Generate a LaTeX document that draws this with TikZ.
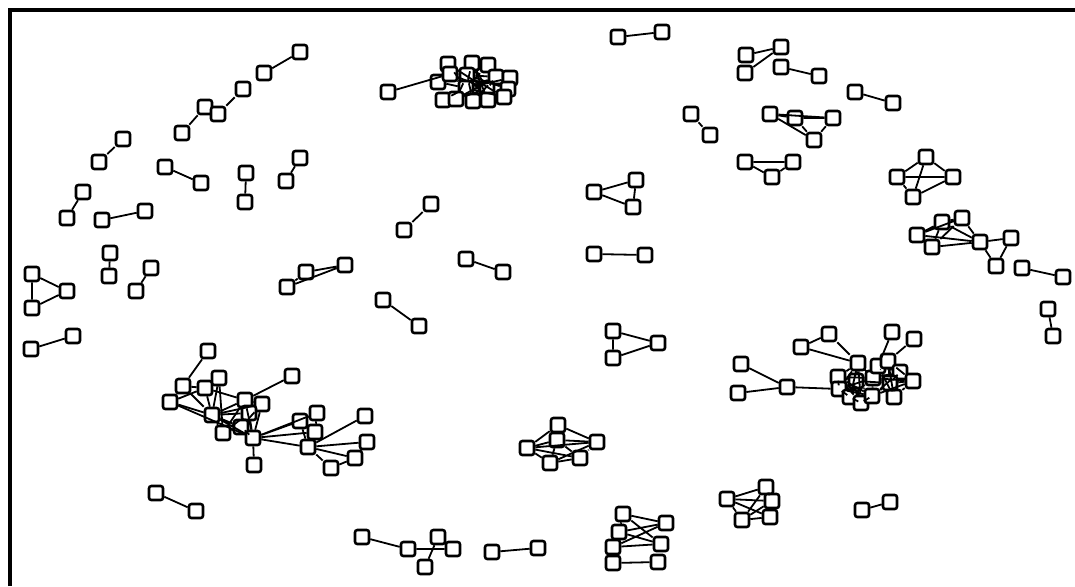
\documentclass[tikz,border=0pt]{standalone}
\usepackage{tikz}
\tikzset{
  vertex/.style={
    rectangle,
    rounded corners=1.2pt,
    draw=black,
    fill=white,
    line width=1.3pt,
    minimum size=7pt,
    inner sep=0pt
  },
  link/.style={
    line width=0.9pt,
    draw=black
  },
  frame/.style={
    line width=1.7pt,
    draw=black
  }
}
\begin{document}
\begin{tikzpicture}[x=0.5pt,y=-0.5pt]
  \useasboundingbox (0,0) rectangle (1075,586);
  \draw[frame] (10,586) -- (10,10) -- (1075,10);
  % small pairs, upper left
  \node[vertex] (ta1) at (264,73) {};
  \node[vertex] (ta2) at (300,52) {};
  \node[vertex] (tb1) at (182,133) {};
  \node[vertex] (tb2) at (205,107) {};
  \node[vertex] (tc1) at (218,114) {};
  \node[vertex] (tc2) at (243,89) {};
  \node[vertex] (td1) at (99,162) {};
  \node[vertex] (td2) at (123,139) {};
  \node[vertex] (te1) at (165,167) {};
  \node[vertex] (te2) at (201,183) {};
  \node[vertex] (tf1) at (246,173) {};
  \node[vertex] (tf2) at (245,202) {};
  \node[vertex] (tg1) at (286,181) {};
  \node[vertex] (tg2) at (300,158) {};
  \node[vertex] (th1) at (67,218) {};
  \node[vertex] (th2) at (83,192) {};
  \node[vertex] (ti1) at (102,220) {};
  \node[vertex] (ti2) at (145,211) {};
  \node[vertex] (tj1) at (110,253) {};
  \node[vertex] (tj2) at (109,276) {};
  \node[vertex] (tk1) at (136,291) {};
  \node[vertex] (tk2) at (151,268) {};
  \node[vertex] (ua) at (32,274) {};
  \node[vertex] (ub) at (67,291) {};
  \node[vertex] (uc) at (32,308) {};
  \node[vertex] (va1) at (31,349) {};
  \node[vertex] (va2) at (73,336) {};
  \node[vertex] (wa) at (287,287) {};
  \node[vertex] (wb) at (306,272) {};
  \node[vertex] (wc) at (345,265) {};
  \node[vertex] (xa1) at (383,300) {};
  \node[vertex] (xa2) at (419,326) {};
  \node[vertex] (xb1) at (404,230) {};
  \node[vertex] (xb2) at (431,204) {};
  \node[vertex] (xc1) at (466,259) {};
  \node[vertex] (xc2) at (503,272) {};
  \node[vertex] (ya1) at (156,493) {};
  \node[vertex] (ya2) at (196,511) {};
  % north cluster
  \node[vertex] (n0) at (388,92) {};
  \node[vertex] (n1) at (448,64) {};
  \node[vertex] (n2) at (472,63) {};
  \node[vertex] (n3) at (488,65) {};
  \node[vertex] (n4) at (438,82) {};
  \node[vertex] (n5) at (450,74) {};
  \node[vertex] (n6) at (467,75) {};
  \node[vertex] (n7) at (496,77) {};
  \node[vertex] (n8) at (510,78) {};
  \node[vertex] (n9) at (466,88) {};
  \node[vertex] (n10) at (487,89) {};
  \node[vertex] (n11) at (508,89) {};
  \node[vertex] (n12) at (443,100) {};
  \node[vertex] (n13) at (456,99) {};
  \node[vertex] (n14) at (473,101) {};
  \node[vertex] (n15) at (488,100) {};
  \node[vertex] (n16) at (504,97) {};
  % west cluster
  \node[vertex] (w1) at (208,351) {};
  \node[vertex] (w2) at (183,386) {};
  \node[vertex] (w3) at (205,388) {};
  \node[vertex] (w4) at (219,378) {};
  \node[vertex] (w5) at (170,402) {};
  \node[vertex] (w6) at (212,415) {};
  \node[vertex] (w7) at (223,433) {};
  \node[vertex] (w8) at (245,400) {};
  \node[vertex] (w9) at (262,404) {};
  \node[vertex] (w10) at (249,413) {};
  \node[vertex] (w11) at (241,427) {};
  \node[vertex] (w12) at (253,438) {};
  \node[vertex] (w13) at (254,465) {};
  \node[vertex] (w14) at (292,376) {};
  \node[vertex] (w15) at (300,421) {};
  \node[vertex] (w16) at (317,413) {};
  \node[vertex] (w17) at (315,432) {};
  \node[vertex] (w18) at (308,447) {};
  \node[vertex] (w19) at (365,416) {};
  \node[vertex] (w20) at (367,442) {};
  \node[vertex] (w21) at (355,458) {};
  \node[vertex] (w22) at (331,468) {};
  % south middle
  \node[vertex] (s1) at (558,425) {};
  \node[vertex] (s2) at (557,440) {};
  \node[vertex] (s3) at (527,448) {};
  \node[vertex] (s4) at (597,442) {};
  \node[vertex] (s5) at (580,458) {};
  \node[vertex] (s6) at (550,463) {};
  \node[vertex] (b1) at (362,537) {};
  \node[vertex] (b2) at (408,549) {};
  \node[vertex] (b3) at (438,537) {};
  \node[vertex] (b4) at (453,549) {};
  \node[vertex] (b5) at (425,567) {};
  \node[vertex] (b6) at (492,552) {};
  \node[vertex] (b7) at (538,548) {};
  \node[vertex] (k1) at (623,514) {};
  \node[vertex] (k2) at (666,523) {};
  \node[vertex] (k3) at (619,532) {};
  \node[vertex] (k4) at (613,547) {};
  \node[vertex] (k5) at (661,544) {};
  \node[vertex] (k6) at (613,563) {};
  \node[vertex] (k7) at (658,562) {};
  % upper right
  \node[vertex] (r1) at (618,37) {};
  \node[vertex] (r2) at (662,32) {};
  \node[vertex] (r3) at (746,55) {};
  \node[vertex] (r4) at (745,73) {};
  \node[vertex] (r5) at (781,47) {};
  \node[vertex] (r6) at (781,67) {};
  \node[vertex] (r7) at (819,76) {};
  \node[vertex] (r8) at (855,92) {};
  \node[vertex] (r9) at (893,103) {};
  \node[vertex] (r10) at (691,114) {};
  \node[vertex] (r11) at (710,135) {};
  \node[vertex] (q1) at (770,114) {};
  \node[vertex] (q2) at (795,118) {};
  \node[vertex] (q3) at (833,118) {};
  \node[vertex] (q4) at (814,140) {};
  \node[vertex] (q5) at (745,162) {};
  \node[vertex] (q6) at (793,162) {};
  \node[vertex] (q7) at (772,177) {};
  \node[vertex] (q8) at (926,157) {};
  \node[vertex] (q9) at (897,177) {};
  \node[vertex] (q10) at (953,177) {};
  \node[vertex] (q11) at (913,197) {};
  \node[vertex] (m1) at (594,192) {};
  \node[vertex] (m2) at (636,180) {};
  \node[vertex] (m3) at (633,207) {};
  \node[vertex] (m4) at (594,254) {};
  \node[vertex] (m5) at (645,255) {};
  \node[vertex] (m6) at (613,331) {};
  \node[vertex] (m7) at (658,343) {};
  \node[vertex] (m8) at (613,358) {};
  \node[vertex] (g1) at (917,235) {};
  \node[vertex] (g2) at (942,222) {};
  \node[vertex] (g3) at (962,218) {};
  \node[vertex] (g4) at (932,247) {};
  \node[vertex] (g5) at (980,242) {};
  \node[vertex] (g6) at (1011,238) {};
  \node[vertex] (g7) at (996,266) {};
  \node[vertex] (g8) at (1022,268) {};
  \node[vertex] (g9) at (1063,277) {};
  \node[vertex] (g10) at (1048,309) {};
  \node[vertex] (g11) at (1053,336) {};
  % east cluster
  \node[vertex] (e1) at (741,364) {};
  \node[vertex] (e2) at (738,393) {};
  \node[vertex] (e3) at (787,387) {};
  \node[vertex] (e4) at (801,347) {};
  \node[vertex] (e5) at (829,334) {};
  \node[vertex] (e6) at (892,332) {};
  \node[vertex] (e7) at (914,339) {};
  \node[vertex] (e8) at (858,363) {};
  \node[vertex] (e9) at (838,377) {};
  \node[vertex] (e10) at (839,389) {};
  \node[vertex] (e11) at (850,397) {};
  \node[vertex] (e12) at (861,403) {};
  \node[vertex] (e13) at (872,396) {};
  \node[vertex] (e14) at (873,378) {};
  \node[vertex] (e15) at (878,366) {};
  \node[vertex] (e16) at (888,361) {};
  \node[vertex] (e17) at (900,372) {};
  \node[vertex] (e18) at (913,381) {};
  \node[vertex] (e19) at (894,397) {};
  \node[vertex] (e20) at (856,381) {};
  \node[vertex] (e21) at (890,383) {};
  \node[vertex] (f1) at (727,499) {};
  \node[vertex] (f2) at (766,487) {};
  \node[vertex] (f3) at (772,501) {};
  \node[vertex] (f4) at (742,520) {};
  \node[vertex] (f5) at (770,517) {};
  \node[vertex] (f6) at (862,510) {};
  \node[vertex] (f7) at (890,502) {};
  % connectors
  \draw[link] (ta1) -- (ta2) (tb1) -- (tb2) (tc1) -- (tc2) (td1) -- (td2);
  \draw[link] (te1) -- (te2) (tf1) -- (tf2) (tg1) -- (tg2) (th1) -- (th2);
  \draw[link] (ti1) -- (ti2) (tj1) -- (tj2) (tk1) -- (tk2) (va1) -- (va2);
  \draw[link] (ua) -- (ub) (ua) -- (uc) (uc) -- (ub);
  \draw[link] (wa) -- (wb) (wa) -- (wc) (wb) -- (wc);
  \draw[link] (xa1) -- (xa2) (xb1) -- (xb2) (xc1) -- (xc2) (ya1) -- (ya2);
  \draw[link] (n0) -- (n5) (n5) -- (n6) (n5) -- (n9) (n5) -- (n10) (n6) -- (n10) (n6) -- (n3);
  \draw[link] (n6) -- (n14) (n1) -- (n9) (n2) -- (n9) (n2) -- (n10) (n3) -- (n9) (n9) -- (n10);
  \draw[link] (n9) -- (n15) (n10) -- (n14) (n10) -- (n7) (n6) -- (n7) (n4) -- (n9) (n12) -- (n9);
  \draw[link] (n13) -- (n10) (n13) -- (n6) (n16) -- (n9) (n11) -- (n6) (n8) -- (n9) (n1) -- (n10);
  \draw[link] (n6) -- (n15) (n9) -- (n7) (n14) -- (n7) (n13) -- (n7) (n6) -- (n16) (n2) -- (n15);
  \draw[link] (w1) -- (w2) (w2) -- (w5) (w2) -- (w3) (w2) -- (w6) (w5) -- (w6) (w5) -- (w3);
  \draw[link] (w3) -- (w6) (w4) -- (w6) (w4) -- (w7) (w5) -- (w12) (w6) -- (w8) (w6) -- (w9);
  \draw[link] (w6) -- (w10) (w6) -- (w11) (w6) -- (w12) (w7) -- (w11) (w7) -- (w10) (w8) -- (w14);
  \draw[link] (w8) -- (w9) (w8) -- (w12) (w9) -- (w12) (w10) -- (w12) (w11) -- (w12) (w12) -- (w13);
  \draw[link] (w12) -- (w15) (w12) -- (w16) (w12) -- (w17) (w12) -- (w18) (w15) -- (w16) (w15) -- (w18);
  \draw[link] (w17) -- (w18) (w16) -- (w17) (w18) -- (w19) (w18) -- (w20) (w18) -- (w21) (w18) -- (w22);
  \draw[link] (w21) -- (w20) (w22) -- (w21) (w6) -- (w7) (w3) -- (w8) (w7) -- (w8) (w11) -- (w9);
  \draw[link] (s1) -- (s3) (s1) -- (s4) (s1) -- (s2) (s2) -- (s3) (s2) -- (s4) (s2) -- (s5);
  \draw[link] (s2) -- (s6) (s3) -- (s4) (s3) -- (s5) (s3) -- (s6) (s6) -- (s5) (s5) -- (s4) (s6) -- (s4);
  \draw[link] (b1) -- (b2) (b2) -- (b4) (b3) -- (b5) (b6) -- (b7);
  \draw[link] (k1) -- (k2) (k1) -- (k5) (k3) -- (k2) (k3) -- (k5) (k4) -- (k2) (k4) -- (k5);
  \draw[link] (k1) -- (k3) (k3) -- (k4) (k6) -- (k7);
  \draw[link] (r1) -- (r2) (r3) -- (r5) (r4) -- (r5) (r6) -- (r7) (r8) -- (r9) (r10) -- (r11);
  \draw[link] (q1) -- (q2) (q1) -- (q3) (q1) -- (q4) (q2) -- (q4) (q2) -- (q3) (q3) -- (q4);
  \draw[link] (q5) -- (q6) (q5) -- (q7) (q7) -- (q6);
  \draw[link] (q8) -- (q9) (q8) -- (q10) (q8) -- (q11) (q9) -- (q10) (q9) -- (q11) (q11) -- (q10);
  \draw[link] (m1) -- (m2) (m1) -- (m3) (m2) -- (m3) (m4) -- (m5);
  \draw[link] (m6) -- (m7) (m6) -- (m8) (m8) -- (m7);
  \draw[link] (g1) -- (g2) (g1) -- (g3) (g1) -- (g4) (g1) -- (g5) (g2) -- (g3) (g2) -- (g4);
  \draw[link] (g2) -- (g5) (g3) -- (g5) (g4) -- (g5) (g4) -- (g3) (g5) -- (g6) (g5) -- (g7) (g6) -- (g7);
  \draw[link] (g8) -- (g9) (g10) -- (g11);
  \draw[link] (e1) -- (e3) (e2) -- (e3) (e3) -- (e10) (e4) -- (e5) (e4) -- (e8) (e5) -- (e8);
  \draw[link] (e6) -- (e15) (e7) -- (e16);
  \draw[link] (e20) -- (e8) (e20) -- (e9) (e20) -- (e10) (e20) -- (e11) (e20) -- (e12) (e20) -- (e13);
  \draw[link] (e20) -- (e14) (e8) -- (e9) (e9) -- (e10) (e10) -- (e11) (e11) -- (e12) (e12) -- (e13);
  \draw[link] (e8) -- (e14) (e9) -- (e13) (e10) -- (e14) (e8) -- (e11) (e14) -- (e13) (e20) -- (e21);
  \draw[link] (e8) -- (e12) (e9) -- (e14) (e10) -- (e13) (e11) -- (e14) (e9) -- (e12) (e8) -- (e10);
  \draw[link] (e21) -- (e14) (e21) -- (e15) (e21) -- (e16) (e21) -- (e17) (e21) -- (e18) (e21) -- (e19);
  \draw[link] (e21) -- (e13) (e15) -- (e17) (e16) -- (e19) (e14) -- (e18) (e13) -- (e17) (e19) -- (e18);
  \draw[link] (e15) -- (e19) (e16) -- (e18) (e14) -- (e17) (e13) -- (e18) (e16) -- (e14) (e17) -- (e19);
  \draw[link] (f1) -- (f2) (f1) -- (f3) (f1) -- (f4) (f1) -- (f5) (f2) -- (f3) (f2) -- (f4);
  \draw[link] (f3) -- (f4) (f3) -- (f5) (f4) -- (f5) (f6) -- (f7);
\end{tikzpicture}
\end{document}
